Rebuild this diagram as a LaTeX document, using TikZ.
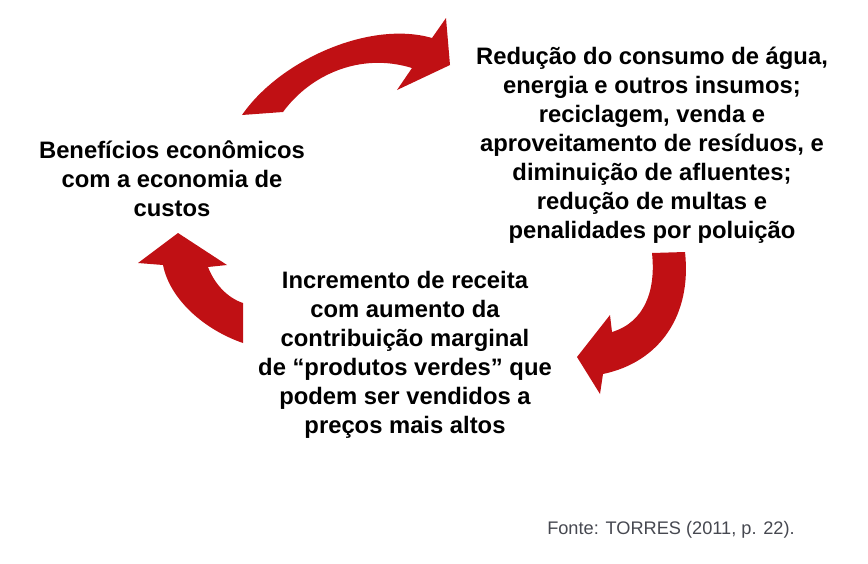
\documentclass[tikz,border=0pt]{standalone}
\usepackage{fontspec}
\setmainfont{Liberation Sans}
\definecolor{arrowred}{RGB}{192,16,20}
\definecolor{srcgray}{RGB}{70,72,80}
\begin{document}
\begin{tikzpicture}[x=1pt,y=-1pt,
  label/.style={font=\bfseries\fontsize{23.8}{29}\selectfont,align=center,text=black,inner sep=0pt},
  curvearrow/.style={fill=arrowred,draw=none}]
\useasboundingbox (0,0) rectangle (868,563);
% top arrow
\fill[curvearrow] (242,115) .. controls (280,60) and (370,20) .. (432,38)
  -- (446,18) -- (450,65) -- (397,90) -- (412,68)
  .. controls (360,52) and (310,75) .. (283,112) -- cycle;
% right arrow
\fill[curvearrow] (652,253) -- (685,252) .. controls (692,315) and (660,362) .. (603,374)
  -- (600,394) -- (577,357) -- (610,315) -- (612,332)
  .. controls (645,322) and (656,290) .. (652,253) -- cycle;
% left arrow
\fill[curvearrow] (243,343) .. controls (205,330) and (170,300) .. (163,265)
  -- (138,263) -- (178,233) -- (227,265) -- (208,267)
  .. controls (215,285) and (228,298) .. (243,303) -- cycle;
\node[label] (ben) at (172,179) {Benefícios econômicos\\com a economia de\\custos};
\node[label] (red) at (652,145) {Redução do consumo de água,\\energia e outros insumos;\\reciclagem, venda e\\aproveitamento de resíduos, e\\diminuição de afluentes;\\redução de multas e\\penalidades por poluição};
\node[label] (inc) at (405,355) {Incremento de receita\\com aumento da\\contribuição marginal\\de “produtos verdes” que\\podem ser vendidos a\\preços mais altos};
\node[font=\fontsize{18.2}{21}\selectfont,text=srcgray,inner sep=0pt] (src) at (671,530) {Fonte: TORRES (2011, p. 22).};
\end{tikzpicture}
\end{document}
